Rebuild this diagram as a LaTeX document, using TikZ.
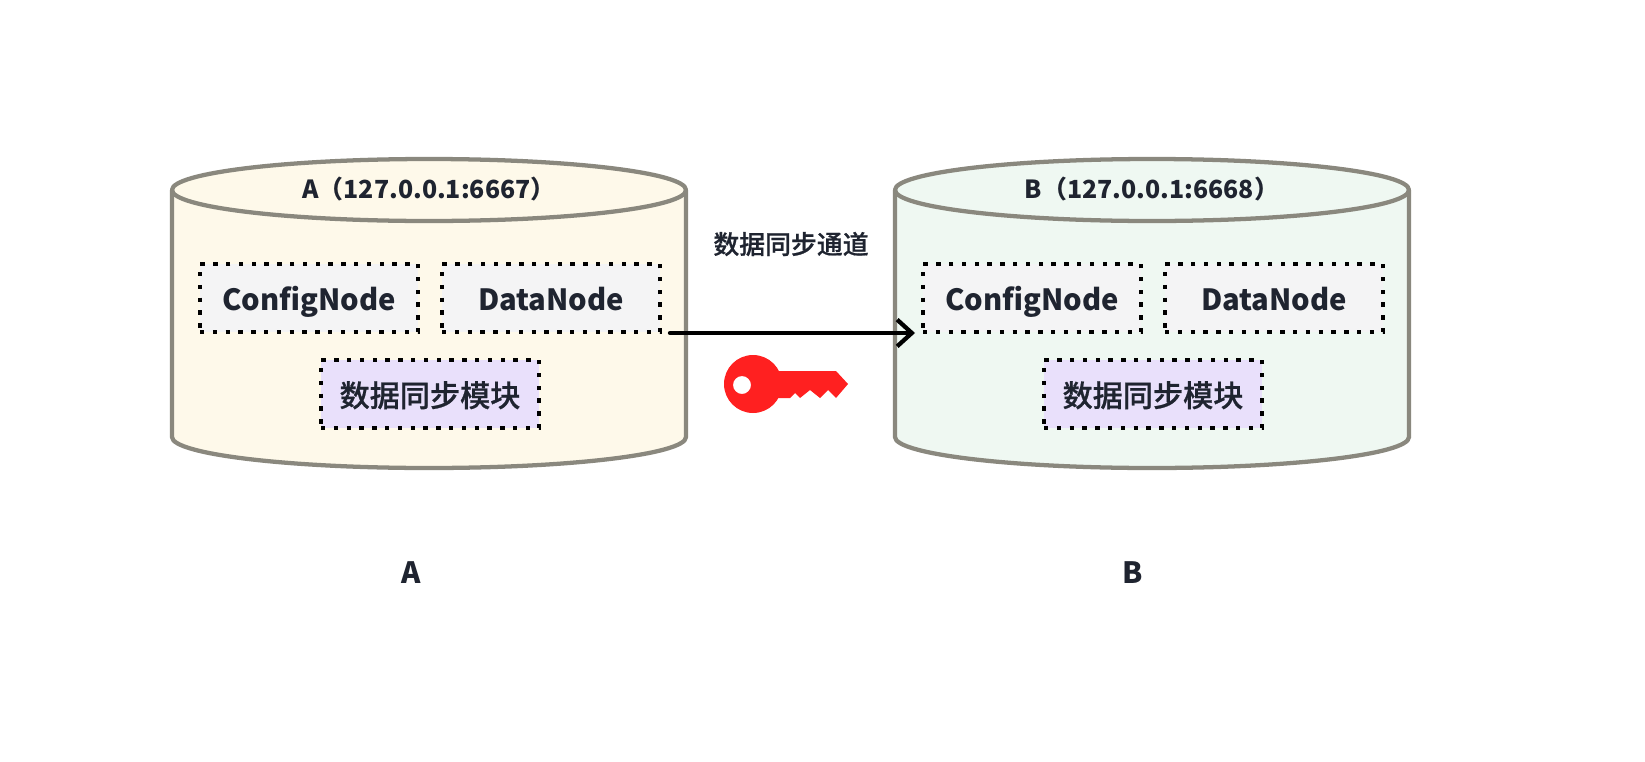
\documentclass[tikz,border=0pt]{standalone}
\usepackage{fontspec}
\setmainfont{Noto Sans CJK SC}
\newfontfamily\medf[FakeBold=0.7]{Noto Sans CJK SC Medium}
\usetikzlibrary{arrows.meta}
\definecolor{cylline}{HTML}{8A887E}
\definecolor{creamfill}{HTML}{FEF9EA}
\definecolor{greenfill}{HTML}{EFF8F2}
\definecolor{boxgray}{HTML}{F4F4F5}
\definecolor{boxpurple}{HTML}{E9E0FB}
\definecolor{inkc}{HTML}{1F2430}
\definecolor{keyred}{HTML}{FF2020}
\tikzset{
  x=0.75pt,y=-0.75pt,
  cylbody/.style={draw=cylline,line width=3.2pt,line join=round},
  dotbox/.style={draw=black,line width=3.3pt,dash pattern=on 3.3pt off 6.3pt,minimum width=163.5pt,minimum height=51pt,inner sep=0pt,text=inkc,text height=24pt,text depth=6pt,font=\fontsize{21.9pt}{24pt}\selectfont\bfseries},
  cfgbox/.style={dotbox,fill=boxgray},
  modbox/.style={dotbox,fill=boxpurple,text height=25pt,text depth=6pt,font=\fontsize{22.6pt}{24pt}\selectfont\medf},
  titlelabel/.style={text=inkc,inner sep=0pt,font=\fontsize{18.7pt}{22pt}\selectfont\bfseries},
  biglabel/.style={text=inkc,inner sep=0pt,font=\fontsize{22pt}{24pt}\selectfont\bfseries},
  chanlabel/.style={text=inkc,inner sep=0pt,font=\fontsize{19.4pt}{22pt}\selectfont\medf},
  link/.style={draw=black,line width=3.2pt,line cap=round,-{Straight Barb[length=11pt,width=20pt,line width=3.2pt]}},
}
\newcommand{\cyl}[2]{%
  \fill[#2] (#1-257,190) -- (#1-257,437) .. controls (#1-257,454) and (#1-142,468) .. (#1,468) .. controls (#1+142,468) and (#1+257,454) .. (#1+257,437) -- (#1+257,190) -- cycle;
  \fill[#2] (#1,190) ellipse[x radius=257,y radius=31];
  \draw[cylbody] (#1-257,190) -- (#1-257,437) .. controls (#1-257,454) and (#1-142,468) .. (#1,468) .. controls (#1+142,468) and (#1+257,454) .. (#1+257,437) -- (#1+257,190);
  \draw[cylbody] (#1,190) ellipse[x radius=257,y radius=31];
}
\begin{document}
\begin{tikzpicture}
\useasboundingbox (0,0) rectangle (1645,761);
\fill[white] (0,0) rectangle (1645,761);
\cyl{429}{creamfill}
\cyl{1152}{greenfill}
\node[titlelabel] (ta) at (429,189) {A（127.0.0.1:6667）};
\node[titlelabel] (tb) at (1152,189) {B（127.0.0.1:6668）};
\node[cfgbox] (ca) at (309,298) {ConfigNode};
\node[cfgbox] (da) at (551,298) {DataNode};
\node[modbox] (ma) at (430,394) {数据同步模块};
\node[cfgbox] (cb) at (1032,298) {ConfigNode};
\node[cfgbox] (db) at (1274,298) {DataNode};
\node[modbox] (mb) at (1153,394) {数据同步模块};
\node[chanlabel] (ch) at (791,244) {数据同步通道};
\node[biglabel] (la) at (411,573) {A};
\node[biglabel] (lb) at (1133,573) {B};
\coordinate (s) at (670,333);
\coordinate (e) at (915,333);
\draw[link] (s) -- (e);
\fill[keyred,even odd rule] (753,384) circle[radius=29] (742,385) circle[radius=9];
\fill[keyred] (770,371) -- (836,371) -- (848,384) -- (836,398) -- (828,390) -- (820,398) -- (810,390) -- (800,398) -- (795,393) -- (790,398) -- (770,398) -- cycle;
\end{tikzpicture}
\end{document}
